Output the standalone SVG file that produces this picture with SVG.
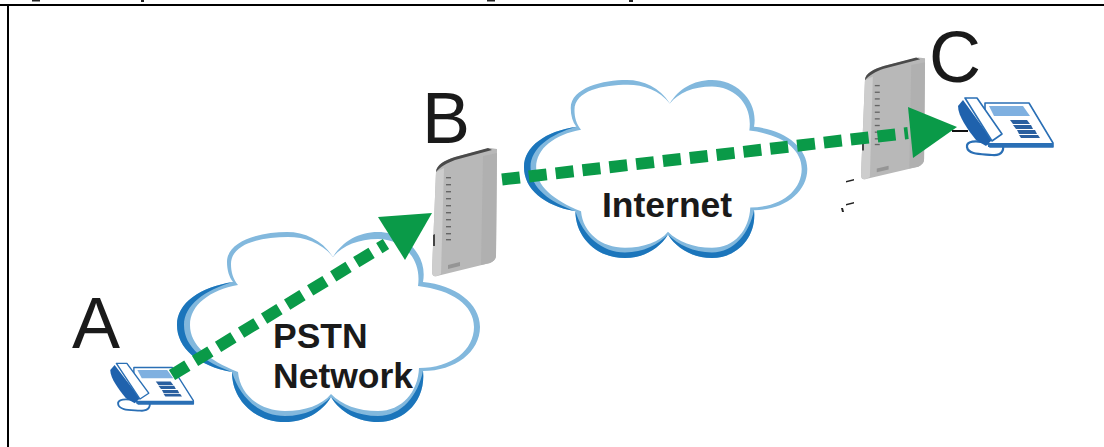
<svg xmlns="http://www.w3.org/2000/svg" width="1104" height="447" viewBox="0 0 1104 447">
<style>
.big{font-family:"Liberation Sans",Arial,sans-serif;font-size:72px;fill:#1a1a1a}
.lbl{font-family:"Liberation Sans",Arial,sans-serif;font-size:35.500px;font-weight:bold;fill:#1a1a1a}
.lt{fill:#82b8dd}.dk{fill:#1b75bb}.wh{fill:#fff}
.flow{fill:none;stroke:#0a9a48;stroke-width:12;stroke-dasharray:18 9}
.head{fill:#0a9a48}
.ph{stroke:#2a6fb5;stroke-width:1.6;fill:#fff;stroke-linejoin:round}
.mark{fill:#222}
</style>
<defs>
<g id="cloud">
<path class="lt" d="M333 257C322 240 305 232 287 232C262 232 227 240 227 262C227 270 229 277 233 282C200 287 177 303 177 325C177 348 198 366 232 372C232 400 255 422 285 422C305 422 322 412 331 397C340 412 358 422 378 422C405 422 426 400 423 371C455 371 480 352 480 327C480 303 455 285 423 282C428 255 405 232 378 232C358 232 342 242 333 257Z"/>
<path class="dk" d="M233 282C200 287 177 303 177 325C177 348 198 366 232 372C205 362 184 348 184 325C184 305 205 290 233 282Z"/>
<path class="dk" d="M232 372C232 400 255 422 285 422C305 422 322 412 331 397C320 408 305 416 285 416C260 416 240 398 232 372Z"/>
<path class="dk" d="M331 397C340 412 358 422 378 422C405 422 426 400 423 371C418 395 402 416 378 416C358 416 342 408 331 397Z"/>
<path class="wh" d="M333 257C322 243 305 237 288 237C262 237 231 243 231 264C231 272 233 279 238 285C210 290 190 305 190 325C190 345 208 360 238 372C240 395 260 411 285 411C305 411 322 405 331 394C342 405 358 411 378 411C402 411 418 392 419 368C452 368 474 350 474 327C474 305 452 290 418 286C422 258 402 239 378 239C358 239 342 246 333 257Z"/>
</g>
<g id="router">
<path fill="#b8b8b8" d="M436 172C436 165 445 160 455 157L490 148L497 149L496 255C496 259 494 261 490 263L437 276C433 277 432 275 432 271Z"/>
<path fill="#cdcdcd" d="M436 172L444 168L441 274L437 276C433 277 432 275 432 271Z"/>
<path fill="#b0b0b0" d="M483 156L497 153L496 255C496 259 494 261 490 263L481 265Z"/>
<path fill="#4a4a4a" d="M436 172C436 165 445 160 455 157L488 148L492 150L455 160C447 163 440 167 436 172Z"/>
<path fill="#444" d="M433 235L435 234L435 246L433 246Z"/>
<g fill="#666"><rect x="446" y="177" width="5" height="1.400"/><rect x="446" y="184" width="5" height="1.400"/><rect x="446" y="191" width="5" height="1.400"/><rect x="446" y="198" width="5" height="1.400"/><rect x="446" y="205" width="5" height="1.400"/><rect x="446" y="212" width="5" height="1.400"/><rect x="446" y="219" width="5" height="1.400"/><rect x="446" y="226" width="5" height="1.400"/><rect x="446" y="233" width="5" height="1.400"/><rect x="446" y="239" width="5" height="1.400"/></g>
<path fill="#959595" d="M448 265L460 262L460 266L448 269Z"/>
</g>
<g id="phone">
<path d="M1001 140C1006 150 1002 156 992 155C982 154 968 155 967 147C966 141 976 140 986 143" fill="none" stroke="#2a6fb5" stroke-width="2.200"/>
<path class="ph" d="M985 103L1029 103L1053 143L1053 147L990 147L985 140Z"/>
<path fill="#2a6fb5" d="M988 143L1053 143L1053 147L988 147Z"/>
<path fill="#7fb0e0" d="M989 106L1023 106L1030 116L994 116Z"/>
<g fill="#2a5f9f"><path d="M1010 120L1027 120L1030 124L1013 124Z"/><path d="M1013 125L1031 125L1033 129L1016 129Z"/><path d="M1017 130L1035 130L1037 134L1019 134Z"/><path d="M1019 135L1038 135L1040 138L1021 138Z"/></g>
<path fill="#1f62ad" d="M958 106L963 100L992 140L986 146L976 140C968 130 958 116 958 106Z"/>
<path class="ph" d="M965 98L977 98L1002 134L992 141Z"/>
</g>
</defs>
<rect width="1104" height="447" fill="#fff"/>
<g id="frame">
<rect x="0" y="4" width="1104" height="2" fill="#000"/>
<rect x="7" y="4" width="2" height="443" fill="#000"/>
<g class="mark"><rect x="32" y="0" width="8" height="1.500"/><rect x="141" y="0" width="3" height="2"/><rect x="487" y="0" width="8" height="1.500"/><rect x="629" y="0" width="4" height="2"/></g>
</g>
<g id="node-pstn">
<use href="#cloud"/>
<text class="lbl" x="273" y="348">PSTN</text>
<text class="lbl" x="273" y="388">Network</text>
</g>
<g id="node-internet">
<use href="#cloud" transform="matrix(.935 0 0 .937 358.500 -137.400)"/>
<text class="lbl" x="602" y="217">Internet</text>
</g>
<g id="node-a">
<use href="#phone" transform="matrix(.875 0 0 .83 -728 282)"/>
<text class="big" x="72" y="348">A</text>
</g>
<g id="node-b">
<use href="#router"/>
<text class="big" x="422" y="143">B</text>
</g>
<g id="node-c">
<use href="#router" transform="matrix(.985 0 0 .95 435.500 -83.200)"/>
<use href="#phone"/>
<text class="big" x="929" y="82">C</text>
<g class="mark"><path d="M846 181L854 179L854 180.500L846 182.500Z"/><path d="M846 204L854 202L854 203.500L846 205.500Z"/><path d="M841 208L843 208L844 212L842 212Z"/></g>
</g>
<g id="connectors">
<path class="flow" d="M172 375L386 244"/>
<path class="head" d="M378 217L432 213L405 260Z"/>
<path class="flow" d="M502 179.500L908 133"/>
<path class="head" d="M908 107L957 127L913 158Z"/>
<path d="M952 131L968 131" stroke="#111" stroke-width="2" fill="none"/>
</g>
</svg>
